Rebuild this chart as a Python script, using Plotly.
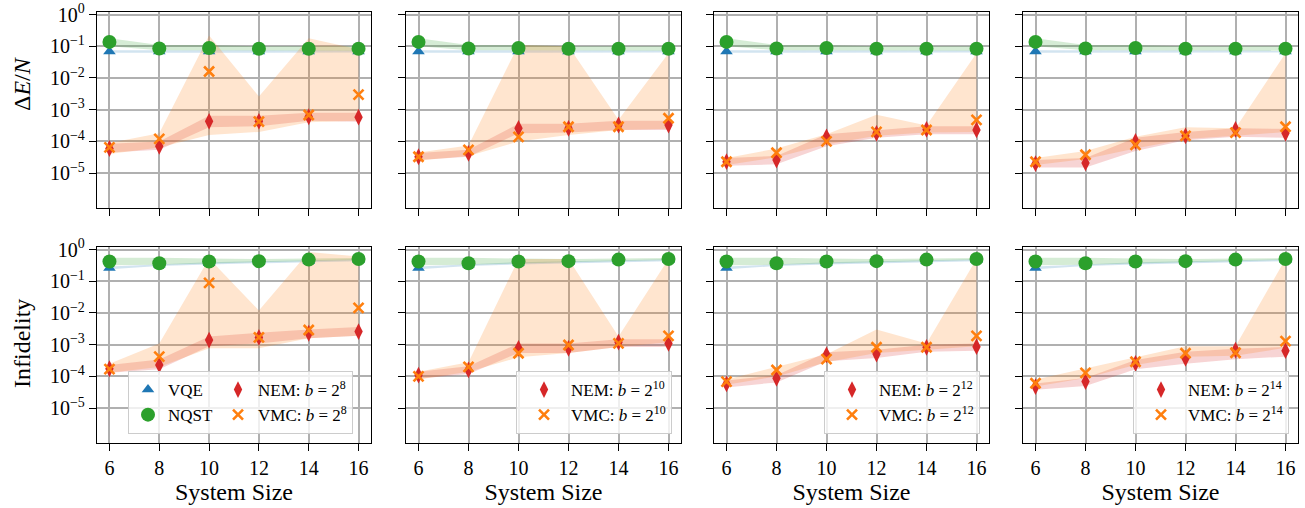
import plotly.graph_objects as go

# ---------------- data ----------------
sizes = [6, 8, 10, 12, 14, 16]
batch_exponents = [8, 10, 12, 14]
y_tick_vals = [1, 1e-1, 1e-2, 1e-3, 1e-4, 1e-5]
y_tick_text = ["10<sup>0</sup>", "10<sup>−1</sup>", "10<sup>−2</sup>", "10<sup>−3</sup>",
               "10<sup>−4</sup>", "10<sup>−5</sup>"]

# VQE / NQST (same in every panel)
vqe_energy = [0.068, 0.068, 0.068, 0.068, 0.068, 0.068]
vqe_energy_lo = [0.062, 0.063, 0.063, 0.063, 0.063, 0.063]
vqe_energy_hi = [0.075, 0.074, 0.074, 0.074, 0.074, 0.074]
nqst_energy = [0.137, 0.085, 0.088, 0.083, 0.083, 0.083]
nqst_energy_lo = [0.10, 0.075, 0.075, 0.072, 0.072, 0.072]
nqst_energy_hi = [0.18, 0.11, 0.11, 0.10, 0.10, 0.10]
vqe_infid = [0.26, 0.33, 0.37, 0.40, 0.43, 0.46]
vqe_infid_lo = [0.24, 0.30, 0.34, 0.37, 0.40, 0.43]
vqe_infid_hi = [0.29, 0.35, 0.40, 0.43, 0.46, 0.49]
nqst_infid = [0.42, 0.37, 0.42, 0.43, 0.48, 0.50]
nqst_infid_lo = [0.32, 0.33, 0.36, 0.40, 0.44, 0.47]
nqst_infid_hi = [0.55, 0.55, 0.52, 0.50, 0.52, 0.54]

# NEM / VMC per batch size exponent
nem_energy = {
    8: [6.0e-5, 7.0e-5, 4.3e-4, 4.3e-4, 6.0e-4, 5.8e-4],
    10: [3.3e-5, 4.2e-5, 2.6e-4, 2.6e-4, 3.3e-4, 3.3e-4],
    12: [2.3e-5, 2.6e-5, 1.4e-4, 1.8e-4, 2.4e-4, 2.3e-4],
    14: [2.0e-5, 2.1e-5, 1.0e-4, 1.5e-4, 2.4e-4, 1.8e-4],
}
nem_energy_lo = {
    8: [4.5e-5, 5.5e-5, 2.8e-4, 3.0e-4, 4.5e-4, 4.2e-4],
    10: [2.6e-5, 3.3e-5, 1.8e-4, 1.9e-4, 2.3e-4, 2.3e-4],
    12: [1.7e-5, 1.9e-5, 7.0e-5, 1.3e-4, 1.7e-4, 1.7e-4],
    14: [1.5e-5, 1.5e-5, 5.0e-5, 1.1e-4, 1.4e-4, 1.3e-4],
}
nem_energy_hi = {
    8: [8.5e-5, 1.0e-4, 6.5e-4, 6.5e-4, 8.0e-4, 8.0e-4],
    10: [4.3e-5, 5.5e-5, 3.6e-4, 3.6e-4, 4.5e-4, 4.5e-4],
    12: [3.0e-5, 3.5e-5, 1.7e-4, 2.3e-4, 3.0e-4, 3.0e-4],
    14: [2.6e-5, 3.0e-5, 1.3e-4, 2.0e-4, 2.6e-4, 2.5e-4],
}
vmc_energy = {
    8: [6.5e-5, 1.2e-4, 1.6e-2, 4.2e-4, 6.8e-4, 3.0e-3],
    10: [3.3e-5, 5.4e-5, 1.4e-4, 2.9e-4, 2.9e-4, 5.4e-4],
    12: [2.3e-5, 4.4e-5, 1.0e-4, 2.0e-4, 2.3e-4, 4.8e-4],
    14: [2.3e-5, 3.8e-5, 7.8e-5, 1.5e-4, 1.9e-4, 2.9e-4],
}
vmc_energy_lo = {
    8: [4.0e-5, 6.5e-5, 1.6e-4, 2.0e-4, 4.0e-4, 4.5e-4],
    10: [2.5e-5, 3.5e-5, 1.0e-4, 1.6e-4, 2.3e-4, 2.5e-4],
    12: [1.8e-5, 3.2e-5, 8.0e-5, 1.5e-4, 1.9e-4, 2.0e-4],
    14: [1.8e-5, 2.8e-5, 6.0e-5, 1.2e-4, 1.5e-4, 2.0e-4],
}
vmc_energy_hi = {
    8: [9.0e-5, 1.8e-4, 0.22, 2.6e-3, 0.18, 0.08],
    10: [4.5e-5, 7.5e-5, 0.11, 0.10, 4.8e-4, 0.06],
    12: [3.0e-5, 6.0e-5, 1.7e-4, 7.0e-4, 3.2e-4, 0.06],
    14: [3.0e-5, 5.0e-5, 1.4e-4, 2.8e-4, 2.6e-4, 0.06],
}
nem_infid = {
    8: [1.75e-4, 2.3e-4, 1.4e-3, 1.7e-3, 2.3e-3, 2.6e-3],
    10: [1.1e-4, 1.6e-4, 7.7e-4, 7.7e-4, 1.2e-3, 1.1e-3],
    12: [5.8e-5, 8.7e-5, 4.8e-4, 5.1e-4, 8.3e-4, 8.7e-4],
    14: [4.8e-5, 6.9e-5, 2.6e-4, 3.7e-4, 6.8e-4, 6.5e-4],
}
nem_infid_lo = {
    8: [1.3e-4, 1.7e-4, 9.0e-4, 1.1e-3, 1.6e-3, 1.9e-3],
    10: [8.5e-5, 1.2e-4, 5.5e-4, 5.5e-4, 8.5e-4, 8.5e-4],
    12: [4.5e-5, 6.5e-5, 3.0e-4, 3.8e-4, 6.0e-4, 6.5e-4],
    14: [3.8e-5, 5.0e-5, 1.7e-4, 2.5e-4, 3.5e-4, 4.2e-4],
}
nem_infid_hi = {
    8: [2.3e-4, 3.4e-4, 1.8e-3, 2.4e-3, 3.0e-3, 3.6e-3],
    10: [1.4e-4, 2.1e-4, 1.1e-3, 1.1e-3, 1.5e-3, 1.5e-3],
    12: [7.5e-5, 1.1e-4, 5.8e-4, 7.0e-4, 1.0e-3, 1.1e-3],
    14: [6.0e-5, 9.0e-5, 3.3e-4, 6.0e-4, 7.5e-4, 8.5e-4],
}
vmc_infid = {
    8: [1.7e-4, 4.2e-4, 8.9e-2, 1.7e-3, 2.9e-3, 1.45e-2],
    10: [1.0e-4, 2.0e-4, 5.4e-4, 9.8e-4, 1.1e-3, 1.9e-3],
    12: [6.9e-5, 1.6e-4, 3.5e-4, 8.3e-4, 8.3e-4, 1.9e-3],
    14: [6.1e-5, 1.3e-4, 2.9e-4, 5.4e-4, 5.6e-4, 1.3e-3],
}
vmc_infid_lo = {
    8: [1.3e-4, 2.0e-4, 7.7e-4, 7.8e-4, 1.6e-3, 1.9e-3],
    10: [8.0e-5, 1.4e-4, 4.0e-4, 5.5e-4, 8.5e-4, 1.2e-3],
    12: [5.5e-5, 1.0e-4, 2.8e-4, 5.5e-4, 7.0e-4, 9.0e-4],
    14: [4.8e-5, 9.0e-5, 2.3e-4, 4.2e-4, 4.5e-4, 8.0e-4],
}
vmc_infid_hi = {
    8: [2.5e-4, 1.1e-3, 0.52, 1.2e-2, 0.84, 0.6],
    10: [1.4e-4, 2.8e-4, 0.5, 0.5, 1.8e-3, 0.5],
    12: [8.0e-5, 2.0e-4, 5.0e-4, 3.0e-3, 1.1e-3, 0.5],
    14: [8.0e-5, 1.8e-4, 4.0e-4, 9.0e-4, 9.0e-4, 0.5],
}

# ---------------- styling ----------------
FONT = "Liberation Serif"
C_VQE, C_NQST, C_NEM, C_VMC = "#1f77b4", "#2ca02c", "#d62728", "#ff7f0e"


def rgba(hex_color, a):
    h = hex_color.lstrip("#")
    return "rgba(%d,%d,%d,%.2f)" % (int(h[0:2], 16), int(h[2:4], 16), int(h[4:6], 16), a)


W, H = 1305, 508
ML, MR, MT, MB = 97, 7, 12, 65
PW, PH = W - ML - MR, H - MT - MB
col_px = [(97, 371), (406, 681), (714, 989), (1023, 1298)]
row_px = [(12, 208), (247, 443)]


def xdom(c):
    a, b = col_px[c]
    return [(a - ML) / PW, (b - ML) / PW]


def ydom(r):
    a, b = row_px[r]
    return [(H - MB - b) / PH, (H - MB - a) / PH]


def px_x(x):
    return (x - ML) / PW


def px_y(y):
    return (H - MB - y) / PH


fig = go.Figure()


def band(ax, lo, hi, color):
    fig.add_trace(go.Scatter(
        x=sizes + sizes[::-1], y=hi + lo[::-1], mode="lines", fill="toself",
        fillcolor=rgba(color, 0.2), line=dict(width=0, color=rgba(color, 0)),
        hoverinfo="skip", showlegend=False, xaxis="x" + ax, yaxis="y" + ax))


def markers(ax, y, name, symbol, color, size, legend, group, show, xline=False):
    if xline:
        mk = dict(symbol=symbol, size=size, color=color, line=dict(color=color, width=2.6))
    else:
        mk = dict(symbol=symbol, size=size, color=color, line=dict(width=0))
    fig.add_trace(go.Scatter(
        x=sizes, y=y, mode="markers", name=name, marker=mk,
        showlegend=show, legend=legend, legendgroup=group,
        xaxis="x" + ax, yaxis="y" + ax))


for c, b in enumerate(batch_exponents):
    blabel = "<i>b</i> = 2<sup>%d</sup>" % b
    for r in range(2):
        idx = r * 4 + c + 1
        ax = "" if idx == 1 else str(idx)
        legend_name = "legend" if c == 0 else "legend%d" % (c + 1)
        if r == 0:
            vq, vql, vqh = vqe_energy, vqe_energy_lo, vqe_energy_hi
            nq, nql, nqh = nqst_energy, nqst_energy_lo, nqst_energy_hi
            ne, nel, neh = nem_energy[b], nem_energy_lo[b], nem_energy_hi[b]
            vm, vml, vmh = vmc_energy[b], vmc_energy_lo[b], vmc_energy_hi[b]
        else:
            vq, vql, vqh = vqe_infid, vqe_infid_lo, vqe_infid_hi
            nq, nql, nqh = nqst_infid, nqst_infid_lo, nqst_infid_hi
            ne, nel, neh = nem_infid[b], nem_infid_lo[b], nem_infid_hi[b]
            vm, vml, vmh = vmc_infid[b], vmc_infid_lo[b], vmc_infid_hi[b]
        band(ax, vql, vqh, C_VQE)
        band(ax, nql, nqh, C_NQST)
        band(ax, nel, neh, C_NEM)
        band(ax, vml, vmh, C_VMC)
        show_main = (r == 1 and c == 0)
        show_b = (r == 1)
        markers(ax, vq, "VQE", "triangle-up", C_VQE, 11, legend_name, "g1", show_main)
        markers(ax, nq, "NQST", "circle", C_NQST, 14, legend_name, "g1", show_main)
        markers(ax, ne, "NEM: " + blabel, "diamond-tall", C_NEM, 12, legend_name, "g2", show_b)
        markers(ax, vm, "VMC: " + blabel, "x-thin", C_VMC, 10, legend_name, "g2", show_b, xline=True)

        xa = dict(
            domain=xdom(c), anchor="y" + ax, range=[5.5, 16.5],
            tickvals=sizes, ticktext=[str(s) for s in sizes], showticklabels=(r == 1),
            ticks="outside", ticklen=7, tickwidth=1.3, tickcolor="black",
            showline=True, linecolor="black", linewidth=1.3, mirror=True,
            showgrid=True, gridcolor="#b0b0b0", gridwidth=1.5, zeroline=False,
            tickfont=dict(family=FONT, size=20, color="black"),
        )
        if r == 1:
            xa["title"] = dict(text="System Size", font=dict(family=FONT, size=24, color="black"), standoff=3)
        ya = dict(
            domain=ydom(r), anchor="x" + ax, type="log", range=[-6.097, 0.079],
            tickvals=y_tick_vals, ticktext=y_tick_text, showticklabels=(c == 0),
            ticks="outside", ticklen=7, tickwidth=1.3, tickcolor="black",
            showline=True, linecolor="black", linewidth=1.3, mirror=True,
            showgrid=True, gridcolor="#b0b0b0", gridwidth=1.5, zeroline=False,
            tickfont=dict(family=FONT, size=20, color="black"),
        )
        fig.layout["xaxis" + ax] = xa
        fig.layout["yaxis" + ax] = ya

# y-axis titles
y_titles = ["Δ<i>E</i>/<i>N</i>", "Infidelity"]
y_title_centers = [84, 344]
for t, yc in zip(y_titles, y_title_centers):
    fig.add_annotation(text=t, xref="paper", yref="paper", x=px_x(22), y=px_y(yc),
                       xanchor="center", yanchor="middle", textangle=-90, showarrow=False,
                       font=dict(family=FONT, size=24, color="black"))

legend_common = dict(
    bgcolor="rgba(255,255,255,0.8)", bordercolor="#cccccc", borderwidth=1,
    font=dict(family=FONT, size=17, color="black"), yanchor="bottom",
    y=px_y(434),
)
layout_legends = {}
layout_legends["legend"] = dict(legend_common, orientation="h", traceorder="grouped",
                                x=px_x(128), xanchor="left", itemwidth=30)
for c in range(1, 4):
    right = col_px[c][1] - 9
    layout_legends["legend%d" % (c + 1)] = dict(legend_common, orientation="v",
                                                 x=px_x(right), xanchor="right", itemwidth=44)

fig.update_layout(
    width=W, height=H, margin=dict(l=ML, r=MR, t=MT, b=MB, autoexpand=False),
    paper_bgcolor="white", plot_bgcolor="white",
    font=dict(family=FONT, color="black"),
    **layout_legends,
)

fig.write_html("out.html", config={"displayModeBar": False},
               post_script="document.body.style.margin='0';document.body.style.overflow='hidden';")
